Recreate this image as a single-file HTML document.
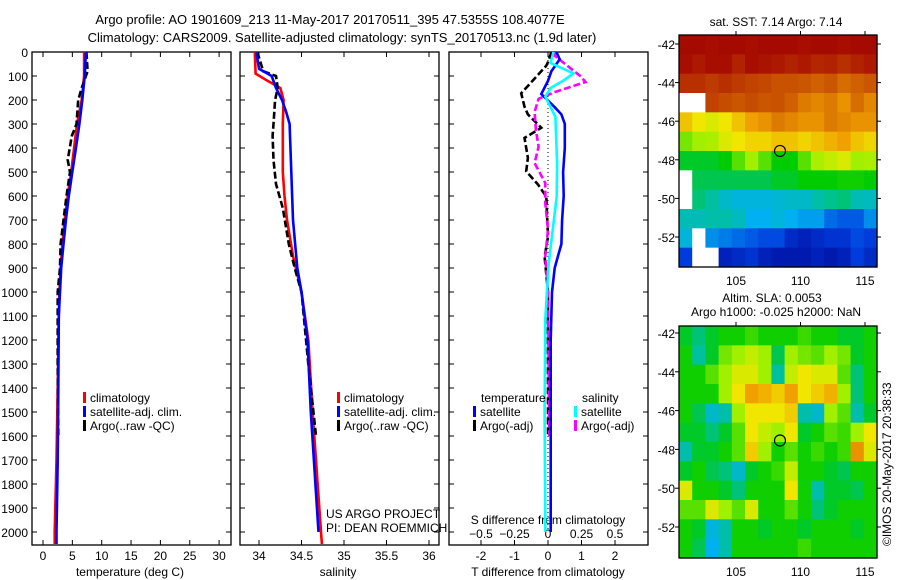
<!DOCTYPE html>
<html><head><meta charset="utf-8"><style>
html,body{margin:0;padding:0;background:#fff;}
svg{display:block;font-family:"Liberation Sans",sans-serif;}
text{fill:#000;}
</style></head><body>
<svg id="chart" width="900" height="580" viewBox="0 0 900 580" xmlns="http://www.w3.org/2000/svg">
<text x="330" y="24" font-size="13" text-anchor="middle">Argo profile: AO 1901609_213 11-May-2017 20170511_395 47.5355S 108.4077E</text>
<text x="342" y="42" font-size="13" text-anchor="middle">Climatology: CARS2009. Satellite-adjusted climatology: synTS_20170513.nc (1.9d later)</text>
<g id="g1"></g>
<g id="g2"></g>
<g id="g3"></g>
<g id="g4"></g>
<g id="g5"></g>
<text x="0" y="0" font-size="12" transform="translate(891,546) rotate(-90)">©IMOS 20-May-2017 20:38:33</text>
</svg>
<script>
// ---- data ----
const depthTicks=[0,100,200,300,400,500,600,700,800,900,1000,1100,1200,1300,1400,1500,1600,1700,1800,1900,2000];
const tempTicks=[0,5,10,15,20,25,30];
const salTicks=[34,34.5,35,35.5,36];
const tdTicks=[-2,-1,0,1,2];
const sdTicks=[-0.5,-0.25,0,0.25,0.5];
const tClimD=[0,100,200,300,400,500,600,700,800,900,1000,1100,1400,1700,2000,2050];
const tClimV=[7.0,7.0,6.6,5.8,5.3,4.8,4.2,3.7,3.3,3.0,2.8,2.7,2.5,2.3,2.0,2.0];
const tSatD=[0,100,200,300,400,500,600,700,800,900,1000,1100,1400,1700,2000,2050];
const tSatV=[7.3,7.1,6.7,6.2,5.6,5.0,4.4,3.9,3.5,3.1,2.9,2.7,2.6,2.5,2.3,2.3];
const tArgoD=[0,80,150,200,300,350,450,500,600,700,800,900,1000,1300,1600];
const tArgoV=[7.4,7.6,6.6,6.0,5.7,4.9,4.2,4.6,4.0,3.5,3.0,2.9,2.5,2.5,2.6];
const sClimD=[0,90,120,150,200,300,500,600,700,850,1000,1200,1500,2000,2050];
const sClimV=[33.95,33.96,34.1,34.25,34.29,34.28,34.28,34.3,34.33,34.4,34.5,34.58,34.63,34.73,34.74];
const sSatD=[0,70,100,150,200,250,300,500,700,900,1000,1200,1500,2000];
const sSatV=[33.97,34.0,34.15,34.2,34.27,34.32,34.36,34.38,34.4,34.45,34.5,34.57,34.61,34.7];
const sArgoD=[0,80,100,150,200,300,350,450,550,650,800,900,1000,1300,1600];
const sArgoV=[33.98,34.05,34.2,34.22,34.19,34.17,34.16,34.17,34.2,34.28,34.35,34.42,34.5,34.58,34.67];
const dTSatD=[0,30,80,120,175,230,260,300,400,500,600,700,800,850,900,1000,1200,2000];
const dTSatV=[0.25,0.35,0.1,0.0,-0.2,0.2,0.4,0.5,0.5,0.45,0.47,0.42,0.4,0.3,0.2,0.12,0.08,0.08];
const dSSatD=[0,46,89,117,150,186,270,465,603,880,1115,1500,2000];
const dSSatV=[0.04,0.02,0.19,0.12,0.02,-0.02,0.055,0.068,0.065,0.005,-0.02,-0.025,-0.02];
const dTArgoD=[0,42,57,172,228,260,316,358,441,497,552,603,770,853,1000,1600];
const dTArgoV=[0.1,0.0,-0.05,-0.8,-0.7,-0.6,-0.2,-0.7,-0.6,-0.65,-0.3,-0.05,0.0,-0.1,0.0,0.0];
const dSArgoD=[0,16,100,125,167,195,250,325,394,463,546,630,740,853,1000,1600];
const dSArgoV=[0.05,0.05,0.24,0.28,0.05,-0.07,-0.1,-0.09,-0.07,-0.1,-0.02,-0.02,0.0,-0.02,0.0,0.01];
const latTicks=[-42,-44,-46,-48,-50,-52];
const lonTicks=[105,110,115];
const sstGrid=[
[.98,.98,.97,.98,.98,.97,.98,.98,.98,.97,.98,.98,.97,.98,.98],
[.97,.95,.97,.97,.93,.97,.96,.95,.93,.95,.92,.93,.9,.93,.95],
[.9,.9,.88,.9,.88,.86,.85,.83,.83,.82,.8,.82,.78,.8,.82],
[-1,-1,.86,.84,.82,.84,.82,.83,.8,.76,.74,.76,.72,.78,.74],
[.66,.62,.6,.62,.66,.7,.72,.76,.74,.72,.72,.76,.74,.72,.72],
[.52,.55,.56,.6,.62,.64,.64,.66,.66,.64,.66,.68,.7,.66,.64],
[.42,.42,.42,.44,.5,.55,.5,.44,.44,.5,.56,.58,.6,.55,.56],
[-1,.4,.4,.4,.4,.4,.4,.42,.42,.44,.44,.44,.45,.45,.44],
[-1,.38,.36,.32,.3,.3,.3,.31,.32,.32,.35,.37,.38,.34,.33],
[.34,.34,.35,.35,.33,.28,.28,.3,.28,.26,.26,.2,.18,.18,.24],
[.3,-1,.24,.22,.2,.18,.16,.16,.1,.08,.1,.12,.12,.16,.14],
[.14,-1,-1,.08,.1,.12,.08,.06,.06,.06,.08,.06,.08,.14,.1]];
const slaGrid=[
[.42,.38,.42,.45,.45,.48,.45,.45,.45,.48,.45,.45,.42,.42,.45],
[.45,.36,.42,.52,.55,.58,.55,.40,.55,.52,.50,.55,.52,.42,.45],
[.45,.45,.5,.55,.6,.6,.55,.36,.58,.62,.6,.6,.5,.38,.45],
[.45,.45,.45,.55,.62,.7,.68,.65,.7,.62,.65,.68,.55,.38,.45],
[.45,.4,.32,.35,.55,.62,.62,.62,.65,.35,.32,.55,.50,.35,.42],
[.42,.42,.38,.42,.5,.62,.58,.55,.62,.42,.45,.5,.48,.55,.62],
[.35,.42,.42,.45,.5,.65,.55,.45,.5,.45,.48,.45,.48,.72,.6],
[.42,.45,.4,.38,.32,.42,.45,.48,.58,.45,.45,.42,.4,.45,.45],
[.6,.45,.45,.42,.38,.45,.45,.45,.62,.45,.35,.42,.42,.4,.45],
[.5,.5,.6,.55,.5,.6,.45,.45,.5,.45,.38,.42,.45,.45,.45],
[.45,.42,.3,.35,.45,.45,.42,.45,.45,.42,.45,.45,.45,.42,.45],
[.45,.4,.28,.35,.45,.45,.45,.45,.45,.48,.45,.45,.45,.45,.45]];
const argoLon=108.41, argoLat=-47.54;

// ---- helpers ----
const NS="http://www.w3.org/2000/svg";
function mk(parent,tag,attrs){const e=document.createElementNS(NS,tag);for(const k in attrs)e.setAttribute(k,attrs[k]);parent.appendChild(e);return e;}
const yD=d=>52+d*0.24;
const xT=t=>43+t*5.87;
const xS=s=>259+(s-34)*85;
const xTd=t=>548+t*33.5;
const xSd=s=>548+s*134;
function pathFrom(ds,vs,fx){let p="";for(let i=0;i<ds.length;i++){p+=(i?"L":"M")+fx(vs[i]).toFixed(1)+","+yD(ds[i]).toFixed(1);}return p;}
function frame(g,x0,x1){
  const r=mk(g,'rect',{x:x0,y:52,width:x1-x0,height:493,fill:'none',stroke:'#000','stroke-width':1.3});
  
  depthTicks.forEach(d=>{mk(g,'line',{x1:x0,x2:x0+5,y1:yD(d),y2:yD(d),stroke:'#000'});mk(g,'line',{x1:x1,x2:x1-5,y1:yD(d),y2:yD(d),stroke:'#000'});});
}
function line(g,ds,vs,fx,col,dash,name){
  const e=mk(g,'path',{d:pathFrom(ds,vs,fx),fill:'none',stroke:col,'stroke-width':2.6});
  if(dash)e.setAttribute('stroke-dasharray',dash);
  
  
}
function txt(g,x,y,s,anchor,size,name){const e=mk(g,'text',{x:x,y:y,'font-size':size||12,'text-anchor':anchor||'start'});e.textContent=s;return e;}
function legend(g,x,y,col,s,name){mk(g,'rect',{x:x,y:y-10,width:3,height:11,fill:col});txt(g,x+7,y,s,'start',12,name);}

// Panel 1
const g1=document.getElementById('g1');
frame(g1,32,231);
depthTicks.forEach(d=>txt(g1,28,yD(d)+5,String(d),'end',12,'depth-tick-label'));
tempTicks.forEach(t=>{mk(g1,'line',{x1:xT(t),x2:xT(t),y1:545,y2:540,stroke:'#000'});mk(g1,'line',{x1:xT(t),x2:xT(t),y1:52,y2:57,stroke:'#000'});txt(g1,xT(t),560,String(t),'middle',12,'temp-tick-label');});
txt(g1,130,576,'temperature (deg C)','middle',12,'x-axis-title-temperature');
line(g1,tClimD,tClimV,xT,'#f00',null,'temp-climatology-line');
line(g1,tArgoD,tArgoV,xT,'#000','7,3','temp-argo-line');
line(g1,tSatD,tSatV,xT,'#00f',null,'temp-satellite-line');
legend(g1,83,402,'#f00','climatology','legend-climatology');
legend(g1,83,416,'#00f','satellite-adj. clim.','legend-satellite');
legend(g1,83,430,'#000','Argo(..raw -QC)','legend-argo');

// Panel 2
const g2=document.getElementById('g2');
frame(g2,240,439);
salTicks.forEach(s=>{mk(g2,'line',{x1:xS(s),x2:xS(s),y1:545,y2:540,stroke:'#000'});mk(g2,'line',{x1:xS(s),x2:xS(s),y1:52,y2:57,stroke:'#000'});txt(g2,xS(s),560,String(s),'middle',12,'sal-tick-label');});
txt(g2,338,576,'salinity','middle',12,'x-axis-title-salinity');
line(g2,sClimD,sClimV,xS,'#f00',null,'sal-climatology-line');
line(g2,sArgoD,sArgoV,xS,'#000','7,3','sal-argo-line');
line(g2,sSatD,sSatV,xS,'#00f',null,'sal-satellite-line');
legend(g2,337,402,'#f00','climatology','legend-climatology');
legend(g2,337,416,'#00f','satellite-adj. clim.','legend-satellite');
legend(g2,337,430,'#000','Argo(..raw -QC)','legend-argo');
txt(g2,326,518,'US ARGO PROJECT','start',12,'project-label');
txt(g2,326,532,'PI: DEAN ROEMMICH','start',12,'pi-label');

// Panel 3
const g3=document.getElementById('g3');
frame(g3,449,648);
tdTicks.forEach(t=>{mk(g3,'line',{x1:xTd(t),x2:xTd(t),y1:545,y2:540,stroke:'#000'});mk(g3,'line',{x1:xTd(t),x2:xTd(t),y1:52,y2:57,stroke:'#000'});txt(g3,xTd(t),560,String(t),'middle',12,'tdiff-tick-label');});
sdTicks.forEach(s=>txt(g3,xSd(s),538,String(s).replace('-','\u2212'),'middle',12,'sdiff-tick-label'));
txt(g3,548,524,'S difference from climatology','middle',12,'s-axis-title');
txt(g3,548,576,'T difference from climatology','middle',12,'t-axis-title');
mk(g3,'line',{x1:548,x2:548,y1:yD(0),y2:yD(2000),stroke:'#000','stroke-dasharray':'1,3'});
line(g3,dTArgoD,dTArgoV,xTd,'#000','7,3','tdiff-argo-line');
line(g3,dSArgoD,dSArgoV,xSd,'#f0f','7,3','sdiff-argo-line');
line(g3,dTSatD,dTSatV,xTd,'#00f',null,'tdiff-satellite-line');
line(g3,dSSatD,dSSatV,xSd,'#0ff',null,'sdiff-satellite-line');
txt(g3,481,402,'temperature','start',12,'legend-temperature-heading');
legend(g3,473,416,'#00f','satellite','legend-t-satellite');
legend(g3,473,430,'#000','Argo(-adj)','legend-t-argo');
txt(g3,582,402,'salinity','start',12,'legend-salinity-heading');
legend(g3,574,416,'#0ff','satellite','legend-s-satellite');
legend(g3,574,430,'#f0f','Argo(-adj)','legend-s-argo');

// Maps
const stops=[[0,[0,0,144]],[.15,[0,64,224]],[.28,[0,176,240]],[.36,[0,192,160]],[.44,[0,204,0]],[.55,[160,240,0]],[.62,[240,230,0]],[.7,[240,160,0]],[.8,[208,96,0]],[.9,[184,48,0]],[1,[160,0,0]]];
function cmap(v){if(v<0)return '#fff';for(let i=1;i<stops.length;i++){if(v<=stops[i][0]){const a=stops[i-1],b=stops[i],f=(v-a[0])/(b[0]-a[0]);const c=a[1].map((x,k)=>Math.round(x+(b[1][k]-x)*f));return 'rgb('+c.join(',')+')';}}return 'rgb(160,0,0)';}
function drawMap(g,grid,top,lat42,lat52,name,titles){
  const x0=679,x1=877,bottom=top+232;
  const lonX=l=>736+(l-105)*12.9;
  const latY=l=>lat42+(-42-l)*(lat52-lat42)/10;
  const rows=grid.length,cols=grid[0].length;
  const cw=(x1-x0)/cols,ch=(bottom-top)/rows;
  grid.forEach((row,r)=>row.forEach((v,c)=>{const e=mk(g,'rect',{x:x0+c*cw,y:top+r*ch,width:cw+0.6,height:ch+0.6,fill:cmap(v)});}));
  const fr=mk(g,'rect',{x:x0,y:top,width:x1-x0,height:bottom-top,fill:'none',stroke:'#000','stroke-width':1.3});
  
  latTicks.forEach(l=>{mk(g,'line',{x1:x0-4,x2:x0,y1:latY(l),y2:latY(l),stroke:'#000'});mk(g,'line',{x1:x1,x2:x1+4,y1:latY(l),y2:latY(l),stroke:'#000'});txt(g,675,latY(l)+5,String(l),'end',12,'lat-tick-label');});
  lonTicks.forEach(l=>{mk(g,'line',{x1:lonX(l),x2:lonX(l),y1:top-4,y2:top,stroke:'#000'});txt(g,lonX(l),bottom+18,String(l),'middle',12,'lon-tick-label');});
  const c=mk(g,'circle',{cx:lonX(argoLon),cy:latY(argoLat),r:5.5,fill:'none',stroke:'#000','stroke-width':1.2});
  
  titles.forEach(t=>txt(g,t[0],t[1],t[2],'middle',12,name+'-title'));
}
drawMap(document.getElementById('g4'),sstGrid,35,44,237,'sst-map',[[776,26,'sat. SST: 7.14 Argo: 7.14']]);
drawMap(document.getElementById('g5'),slaGrid,326,333,527,'sla-map',[[772,302,'Altim. SLA: 0.0053'],[776,316,'Argo h1000: -0.025 h2000: NaN']]);
</script>
</body></html>
